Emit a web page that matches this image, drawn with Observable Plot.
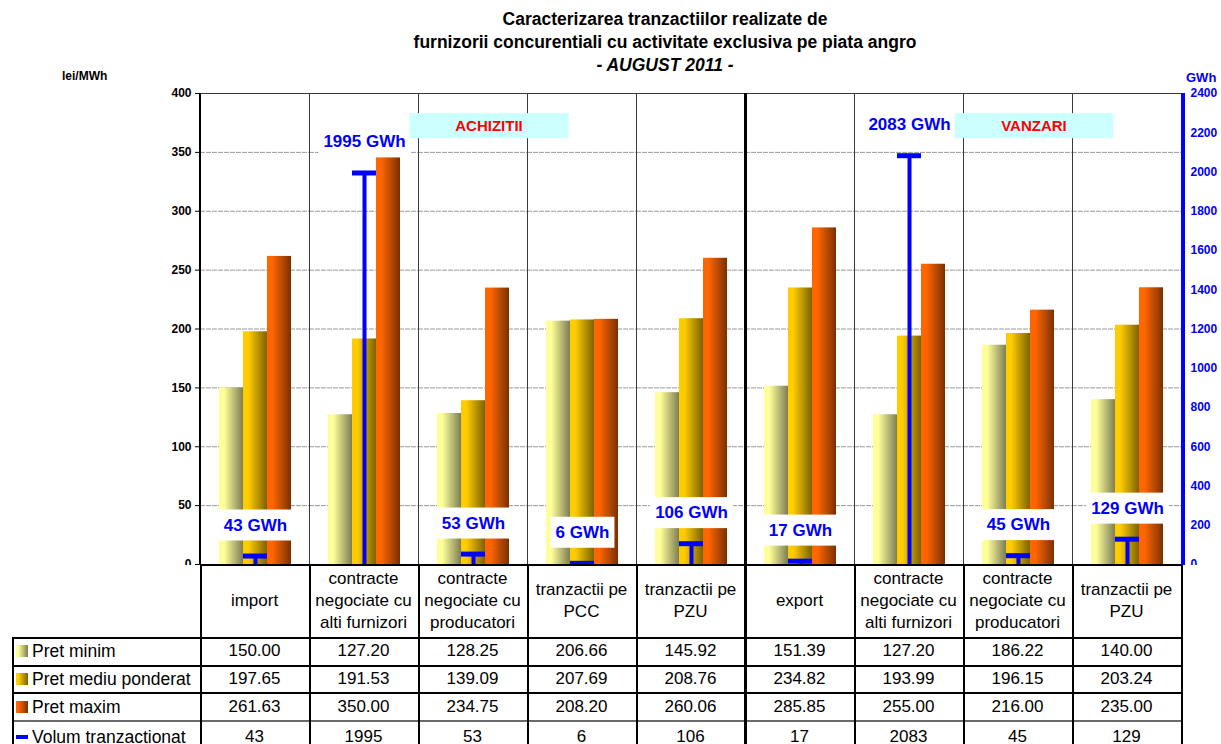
<!DOCTYPE html>
<html><head><meta charset="utf-8">
<script src="https://cdn.jsdelivr.net/npm/d3@7"></script>
<script src="https://cdn.jsdelivr.net/npm/@observablehq/plot@0.6"></script>
<style>
body{margin:0;background:#fff;font-family:"Liberation Sans",Arial,sans-serif;}
#wrap{position:relative;width:1221px;height:744px;overflow:hidden;background:#fff;}
#wrap svg{position:absolute;left:0;top:0;}
.abs{position:absolute;box-sizing:border-box;}
.title{position:absolute;left:315px;width:700px;text-align:center;font-weight:bold;font-size:17.5px;line-height:23px;top:8px;color:#000;}
.cell{position:absolute;box-sizing:border-box;display:flex;align-items:center;justify-content:center;text-align:center;font-size:17px;line-height:22px;color:#000;}
.lab{justify-content:flex-start;padding-left:4px;font-size:17.5px;}
.sw{display:inline-block;width:12px;height:12px;margin-right:4px;}
</style></head><body><div id="wrap"></div>
<script>
// ---- data ----
const categories = ["import","contracte negociate cu alti furnizori","contracte negociate cu producatori","tranzactii pe PCC","tranzactii pe PZU","export","contracte negociate cu alti furnizori","contracte negociate cu producatori","tranzactii pe PZU"];
const headerLines = [["import"],["contracte","negociate cu","alti furnizori"],["contracte","negociate cu","producatori"],["tranzactii pe","PCC"],["tranzactii pe","PZU"],["export"],["contracte","negociate cu","alti furnizori"],["contracte","negociate cu","producatori"],["tranzactii pe","PZU"]];
const series = ["Pret minim","Pret mediu ponderat","Pret maxim"];
const pretMinim = [150.00,127.20,128.25,206.66,145.92,151.39,127.20,186.22,140.00];
const pretMediu = [197.65,191.53,139.09,207.69,208.76,234.82,193.99,196.15,203.24];
const pretMaxim = [261.63,350.00,234.75,208.20,260.06,285.85,255.00,216.00,235.00];
const volum = [43,1995,53,6,106,17,2083,45,129];
const volumLabel = "Volum tranzactionat";
const groups = [{name:"ACHIZITII", cat:2}, {name:"VANZARI", cat:7}];
const yTicks = d3.range(0, 401, 50);
const vTicks = d3.range(0, 2401, 200);

// ---- build ----
const k = 2400 / 400; // GWh per lei/MWh unit on the shared scale
const idx = d3.range(categories.length);
const rows = [];
idx.forEach(i => {
  [pretMinim, pretMediu, pretMaxim].forEach((arr, s) => rows.push({cat: i, series: series[s], value: arr[i]}));
});
const vol = idx.map(i => ({cat: i, v: volum[i]}));
const mid = () => series[1];
const blue = "#0000FF";

const plot = Plot.plot({
  width: 1221, height: 584,
  marginTop: 93, marginBottom: 20, marginLeft: 200, marginRight: 40,
  fx: {domain: idx, padding: 0, axis: null},
  x: {domain: series, paddingInner: 0, paddingOuter: 0.71, axis: null},
  y: {domain: [0, 400]},
  color: {domain: series, range: ["url(#gMin)", "url(#gMed)", "url(#gMax)"]},
  style: {fontFamily: "'Liberation Sans', Arial, sans-serif", fontSize: "12px", background: "transparent"},
  marks: [
    Plot.gridY(yTicks, {stroke: "#9a9a9a", strokeOpacity: 1, strokeDasharray: "5,1"}),
    Plot.frame({stroke: "#3a3a3a", strokeWidth: 1}),
    Plot.barY(rows, {fx: "cat", x: "series", y: "value", fill: "series"}),
    Plot.ruleX(vol, {fx: "cat", x: mid, y1: 0, y2: d => d.v / k, stroke: blue, strokeWidth: 4}),
    Plot.tickY(vol, {fx: "cat", x: mid, y: d => d.v / k, stroke: blue, strokeWidth: 5}),
    Plot.text(vol, {fx: "cat", x: mid, y: d => d.v / k, dy: -31, text: d => d.v + " GWh", fill: blue, fontWeight: "bold", fontSize: 17, ariaDescription: "vol-labels"}),
    Plot.text(groups, {fx: "cat", text: "name", frameAnchor: "top", dy: 27, dx: 16, fill: "#FF0000", fontWeight: "bold", fontSize: 15, ariaDescription: "group-labels"}),
    Plot.axisY({anchor: "left", label: null, ticks: yTicks, tickSize: 5, tickPadding: 4, fontWeight: "bold", fontSize: 12, tickFormat: d => String(d)}),
    Plot.axisY({anchor: "right", label: null, ticks: vTicks.map(v => v / k), tickFormat: d => String(Math.round(d * k)), color: blue, tickSize: 3, tickPadding: 6, fontWeight: "bold", fontSize: 12})
  ]
});

const wrap = document.getElementById("wrap");
wrap.appendChild(plot);

// gradients
const ns = "http://www.w3.org/2000/svg";
const grads = [["gMin", "#FFFF99", "#7d7d55"], ["gMed", "#FFCC00", "#7a6200"], ["gMax", "#FF6600", "#7a3000"]];
const defs = document.createElementNS(ns, "defs");
grads.forEach(([id, c1, c2]) => {
  const g = document.createElementNS(ns, "linearGradient");
  g.setAttribute("id", id); g.setAttribute("x1", "0"); g.setAttribute("x2", "1"); g.setAttribute("y1", "0"); g.setAttribute("y2", "0");
  [[0, c1], [0.22, c1], [1, c2]].forEach(([o, c]) => {
    const s = document.createElementNS(ns, "stop");
    s.setAttribute("offset", o); s.setAttribute("stop-color", c);
    g.appendChild(s);
  });
  defs.appendChild(g);
});
plot.insertBefore(defs, plot.firstChild);

// label boxes
function boxes(desc, fill, padX, padY, fixedW, fixedH) {
  plot.querySelectorAll(`g[aria-description="${desc}"] text`).forEach(t => {
    const b = t.getBBox();
    const r = document.createElementNS(ns, "rect");
    const w = fixedW || b.width + 2 * padX, h = fixedH || b.height + 2 * padY;
    r.setAttribute("x", b.x + b.width / 2 - w / 2);
    r.setAttribute("y", b.y + b.height / 2 - h / 2);
    r.setAttribute("width", w); r.setAttribute("height", h);
    r.setAttribute("fill", fill); r.setAttribute("stroke", "none");
    if (t.getAttribute("transform")) r.setAttribute("transform", t.getAttribute("transform"));
    t.parentNode.insertBefore(r, t);
  });
}
boxes("vol-labels", "#FFFFFF", 5, 6);
boxes("group-labels", "#CCFFFF", 0, 0, 159, 25);

// overlay decorations & table, aligned to the fx scale
const fx = plot.scale("fx");
const bw = fx.bandwidth;
const y0 = 93, yB = 564;
function div(cls, css, html) {
  const d = document.createElement("div");
  d.className = cls; Object.assign(d.style, css);
  if (html != null) d.innerHTML = html;
  wrap.appendChild(d); return d;
}
function hline(x1, x2, y, w, c) { div("abs", {left: x1 + "px", top: y + "px", width: x2 - x1 + 1 + "px", height: w + "px", background: c, zIndex: 5}); }
function vline(x, y1, y2, w, c) { div("abs", {left: x + "px", top: y1 + "px", width: w + "px", height: y2 - y1 + "px", background: c, zIndex: 5}); }

// titles
div("title", {}, "Caracterizarea tranzactiilor realizate de<br>furnizorii concurentiali cu activitate exclusiva pe piata angro<br><i>- AUGUST 2011 -</i>");
div("abs", {left: "62px", top: "69px", fontSize: "12px", fontWeight: "bold"}, "lei/MWh");
div("abs", {left: "1186px", top: "70px", fontSize: "13px", fontWeight: "bold", color: blue}, "GWh");

// table
const rowTops = [yB, 637, 665, 692, 721, 752];
const labelLeft = 12;
const xL = fx.apply(0);
const xR = fx.apply(idx.length - 1) + bw;
div("abs", {left: "0px", top: yB + 1 + "px", width: "1221px", height: 744 - yB + "px", background: "#fff"});
const tableRows = [pretMinim.map(v => v.toFixed(2)), pretMediu.map(v => v.toFixed(2)), pretMaxim.map(v => v.toFixed(2)), volum.map(v => String(v))];
const keyHTML = [
  `<span class="sw" style="background:linear-gradient(90deg,#FFFF99 20%,#7d7d55)"></span>`,
  `<span class="sw" style="background:linear-gradient(90deg,#FFCC00 20%,#7a6200)"></span>`,
  `<span class="sw" style="background:linear-gradient(90deg,#FF6600 20%,#7a3000)"></span>`,
  `<span class="sw" style="background:${blue};height:4px"></span>`
];
const rowNames = [...series, volumLabel];
// header row text
idx.forEach(i => {
  div("cell", {left: fx.apply(i) + "px", top: rowTops[0] + "px", width: bw + "px", height: rowTops[1] - rowTops[0] + "px"}, headerLines[i].join("<br>"));
});
// data rows text
for (let r = 0; r < 4; r++) {
  const top = rowTops[r + 1], h = rowTops[r + 2] - top;
  div("cell lab", {left: labelLeft + "px", top: top + "px", width: xL - labelLeft + "px", height: h + "px"}, keyHTML[r] + rowNames[r]);
  idx.forEach(i => {
    div("cell", {left: fx.apply(i) + "px", top: top + "px", width: bw + "px", height: h + "px"}, tableRows[r][i]);
  });
}
// table grid lines
hline(xL, xR, rowTops[0], 1.5, "#000");
[1, 2, 3].forEach(j => hline(labelLeft, xR, rowTops[j], 1.5, "#000"));
hline(labelLeft, xR, rowTops[4] - 1, 2, "#6a6a6a");
vline(labelLeft, rowTops[1], 744, 1.5, "#000");
idx.forEach(i => vline(Math.round(fx.apply(i)), rowTops[0], 744, 1.5, "#000"));
vline(Math.round(xR), rowTops[0], 744, 1.5, "#000");

// axis lines and divider
vline(xL - 1, y0, yB + 1, 1.5, "#000");
vline(xR - 0.5, y0, yB + 1, 4, blue);
vline(fx.apply(5) - 1.5, y0, 744, 3.5, "#000");
</script></body></html>
